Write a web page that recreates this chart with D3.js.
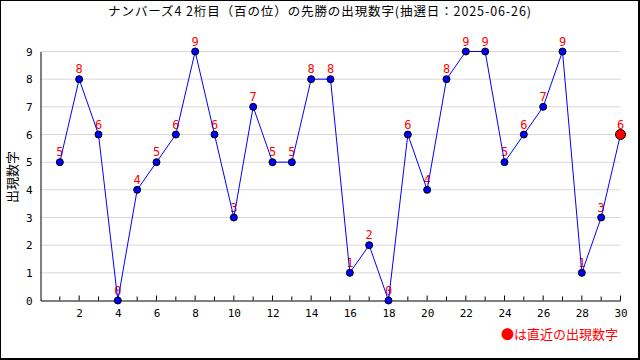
<!DOCTYPE html>
<html>
<head>
<meta charset="utf-8">
<script src="https://cdn.jsdelivr.net/npm/d3@7"></script>
<style>
  body { margin: 0; background: #fff; }
  svg { display: block; }
  .tick text { font-family: "DejaVu Sans Mono", monospace; font-size: 11px; fill: #000; }
</style>
</head>
<body>
<div id="chart"></div>
<script>
const titleText = "ナンバーズ4 2桁目（百の位）の先勝の出現数字(抽選日：2025-06-26)"
const yLabel = "出現数字"
const legendText = "●は直近の出現数字"
const draws = d3.range(1, 31)
const digits = [5, 8, 6, 0, 4, 5, 6, 9, 6, 3, 7, 5, 5, 8, 8, 1, 2, 0, 6, 4, 8, 9, 9, 5, 6, 7, 9, 1, 3, 6]
const xTicks = [2, 4, 6, 8, 10, 12, 14, 16, 18, 20, 22, 24, 26, 28, 30]
const yTicks = [0, 1, 2, 3, 4, 5, 6, 7, 8, 9]

const W = 640, H = 360
const svg = d3.select("#chart").append("svg")
    .attr("width", W)
    .attr("height", H)

// frame
svg.append("rect")
    .attr("x", 0.5).attr("y", 0.5)
    .attr("width", W - 2).attr("height", H - 2)
    .attr("fill", "none").attr("stroke", "#000")
svg.append("line").attr("x1", W - 0.5).attr("x2", W - 0.5).attr("y1", 0).attr("y2", H).attr("stroke", "#000")
svg.append("line").attr("y1", H - 0.5).attr("y2", H - 0.5).attr("x1", 0).attr("x2", W).attr("stroke", "#000")

const x = d3.scaleLinear().domain([0, 30]).range([40.5, 620.5])
const y = d3.scaleLinear().domain([0, 9]).range([300.5, 51.5])

// grid
svg.append("g")
    .selectAll("line")
    .data(yTicks.slice(1))
    .join("line")
    .attr("x1", x(0)).attr("x2", x(30))
    .attr("y1", d => y(d)).attr("y2", d => y(d))
    .attr("stroke", "#d8d8d8")

// x axis: ticks point up into the plot
const xAxis = svg.append("g")
    .attr("transform", "translate(0," + y(0) + ")")
    .call(d3.axisBottom(x)
        .tickValues(xTicks)
        .tickSizeInner(0)
        .tickSizeOuter(0)
        .tickPadding(9))
xAxis.select(".domain").attr("stroke", "#000")
svg.append("g")
    .selectAll("line")
    .data(draws)
    .join("line")
    .attr("x1", d => x(d)).attr("x2", d => x(d))
    .attr("y1", y(0)).attr("y2", d => y(0) - (d % 2 === 0 ? 5 : 4))
    .attr("stroke", "#000")

const yAxis = svg.append("g")
    .attr("transform", "translate(" + x(0) + ",0)")
    .call(d3.axisLeft(y)
        .tickValues(yTicks)
        .tickSizeInner(0)
        .tickSizeOuter(0)
        .tickPadding(8))
yAxis.select(".domain").attr("stroke", "#000")

const data = draws.map((d, i) => ({draw: d, digit: digits[i]}))

// value labels (under the line)
svg.append("g")
    .selectAll("text")
    .data(data)
    .join("text")
    .attr("x", d => x(d.draw))
    .attr("y", d => y(d.digit) - 6)
    .attr("text-anchor", "middle")
    .attr("fill", "#ff0000")
    .style("font-family", "'DejaVu Sans Mono', monospace")
    .style("font-size", "12px")
    .text(d => d.digit)

svg.append("path")
    .datum(data)
    .attr("fill", "none")
    .attr("stroke", "#0000ff")
    .attr("stroke-width", 1)
    .attr("d", d3.line()
        .x(d => x(d.draw))
        .y(d => y(d.digit)))

svg.append("g")
    .selectAll("circle")
    .data(data)
    .join("circle")
    .attr("cx", d => x(d.draw))
    .attr("cy", d => y(d.digit))
    .attr("r", (d, i) => i === data.length - 1 ? 5 : 3.5)
    .attr("fill", (d, i) => i === data.length - 1 ? "#ff0000" : "#0000ff")
    .attr("stroke", "#000")
    .attr("stroke-width", 1)

svg.append("text")
    .attr("x", 320).attr("y", 16)
    .attr("text-anchor", "middle")
    .style("font-family", "'Noto Sans CJK JP', sans-serif")
    .style("font-size", "12.5px")
    .style("letter-spacing", "0.9px")
    .text(titleText)

svg.append("text")
    .attr("transform", "translate(17,177) rotate(-90)")
    .attr("text-anchor", "middle")
    .style("font-family", "'Noto Sans CJK JP', sans-serif")
    .style("font-size", "13px")
    .text(yLabel)

svg.append("text")
    .attr("x", 618).attr("y", 339)
    .attr("text-anchor", "end")
    .attr("fill", "#ff0000")
    .style("font-family", "'Noto Sans CJK JP', sans-serif")
    .style("font-size", "13px")
    .text(legendText)
</script>
</body>
</html>
